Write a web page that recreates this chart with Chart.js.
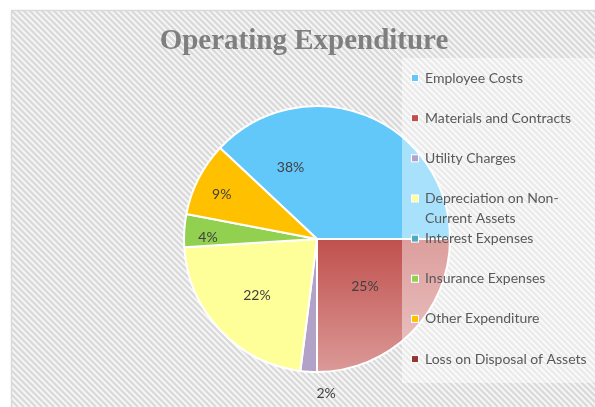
<!DOCTYPE html>
<html>
<head>
<meta charset="utf-8">
<script src="https://cdn.jsdelivr.net/npm/chart.js@4/dist/chart.umd.min.js"></script>
<style>
html,body{margin:0;padding:0;background:#fff;}
#wrap{width:595px;height:407px;position:relative;}
</style>
</head>
<body>
<div id="wrap"><canvas id="c" width="595" height="407"></canvas></div>
<script>
// ---- data ----
const categories = ["Employee Costs","Materials and Contracts","Utility Charges","Depreciation on Non-Current Assets","Interest Expenses","Insurance Expenses","Other Expenditure","Loss on Disposal of Assets"];
const values = [38, 25, 2, 22, 0, 4, 9, 0];
const chartTitle = "Operating Expenditure";

// ---- styles ----
const sliceColors = ["#62C8FA","#C0504D","#B3A2C7","#FFFF99","#4BACC6","#92D050","#FFC000","#943634"];
// label placement per slice: fraction of radius, angle offset in degrees
const labelPlacement = [
  {r:0.57,a:-42},{r:0.51,a:0},{r:1.16,a:-7},{r:0.62,a:0},
  {r:0,a:0},{r:0.82,a:-2.6},{r:0.79,a:-2},{r:0,a:0}
];

const bgPlugin = {
  id:'bg',
  beforeDraw(chart){
    const ctx = chart.ctx;
    ctx.save();
    ctx.fillStyle = '#ffffff';
    ctx.fillRect(0,0,chart.width,chart.height);
    const fx = 11, fy = 10;
    ctx.fillStyle = '#F7F7F7';
    ctx.fillRect(fx,fy,chart.width-fx,chart.height-fy);
    ctx.beginPath();
    ctx.rect(fx,fy,chart.width-fx,chart.height-fy);
    ctx.clip();
    ctx.strokeStyle = '#DADADA';
    ctx.lineWidth = 2.4;
    const H = chart.height;
    for(let x = -H; x < chart.width + 10; x += 6){
      ctx.beginPath();
      ctx.moveTo(x, 0);
      ctx.lineTo(x + H, H);
      ctx.stroke();
    }
    ctx.restore();
    ctx.save();
    ctx.strokeStyle = '#D9D9D9';
    ctx.lineWidth = 1.5;
    ctx.beginPath();
    ctx.moveTo(fx+0.5, chart.height);
    ctx.lineTo(fx+0.5, fy+0.5);
    ctx.lineTo(chart.width, fy+0.5);
    ctx.stroke();
    // title
    ctx.fillStyle = '#7F7F7F';
    ctx.font = 'bold 29px "Liberation Serif", serif';
    ctx.textAlign = 'center';
    ctx.textBaseline = 'middle';
    ctx.fillText(chartTitle, 304, 42);
    ctx.restore();
  }
};

const labelPlugin = {
  id:'pctLabels',
  afterDatasetsDraw(chart){
    const ctx = chart.ctx;
    const meta = chart.getDatasetMeta(0);
    const total = values.reduce((s,v)=>s+v,0);
    ctx.save();
    ctx.fillStyle = '#404040';
    ctx.font = '14px "Lato", sans-serif';
    ctx.textAlign = 'center';
    ctx.textBaseline = 'middle';
    meta.data.forEach((arc,i)=>{
      if(!values[i]) return;
      const p = labelPlacement[i];
      const mid = (arc.startAngle + arc.endAngle)/2 + p.a*Math.PI/180;
      const rr = arc.outerRadius * p.r;
      const x = arc.x + rr*Math.cos(mid);
      const y = arc.y + rr*Math.sin(mid);
      ctx.fillText(Math.round(values[i]/total*100)+'%', x, y);
    });
    ctx.restore();
  }
};

function wrapText(ctx, text, maxW){
  if(ctx.measureText(text).width <= maxW) return [text];
  const tokens = text.match(/[^\s-]+-?\s*/g);
  const lines = [];
  let cur = '';
  tokens.forEach(t=>{
    const test = cur + t;
    if(ctx.measureText(test.trim()).width > maxW && cur){
      lines.push(cur.trim());
      cur = t;
    } else cur = test;
  });
  if(cur) lines.push(cur.trim());
  return lines;
}

const legendPlugin = {
  id:'customLegend',
  afterDraw(chart){
    const ctx = chart.ctx;
    ctx.save();
    ctx.fillStyle = 'rgba(255,255,255,0.45)';
    ctx.fillRect(402, 58, chart.width-402, 383-58);
    ctx.font = '14px "Lato", sans-serif';
    ctx.textBaseline = 'middle';
    ctx.textAlign = 'left';
    const top = 78, step = 40.15;
    categories.forEach((c,i)=>{
      const y = top + i*step;
      ctx.fillStyle = '#ffffff';
      ctx.fillRect(411, y-4, 8, 8);
      ctx.fillStyle = sliceColors[i];
      ctx.fillRect(412, y-3, 6, 6);
      ctx.fillStyle = '#595959';
      const lines = wrapText(ctx, c, 170);
      lines.forEach((l,k)=>ctx.fillText(l, 425, y + k*20));
    });
    ctx.restore();
  }
};

new Chart(document.getElementById('c'), {
  type:'pie',
  data:{
    labels: categories,
    datasets:[{
      data: values,
      backgroundColor: (c)=>{
        const i = c.dataIndex;
        if(i===1 && c.chart.chartArea){
          const a = c.chart.chartArea;
          const cy = (a.top+a.bottom)/2;
          const g = c.chart.ctx.createLinearGradient(0, cy, 0, a.bottom);
          g.addColorStop(0,'#C0504D');
          g.addColorStop(1,'#DB9A98');
          return g;
        }
        return sliceColors[i];
      },
      borderColor:'#ffffff',
      borderWidth:2
    }]
  },
  options:{
    responsive:false,
    animation:false,
    rotation:-46.8,
    layout:{padding:{left:183,top:105,right:144,bottom:34}},
    plugins:{legend:{display:false},title:{display:false},tooltip:{enabled:false}}
  },
  plugins:[bgPlugin,labelPlugin,legendPlugin]
});
</script>
</body>
</html>
